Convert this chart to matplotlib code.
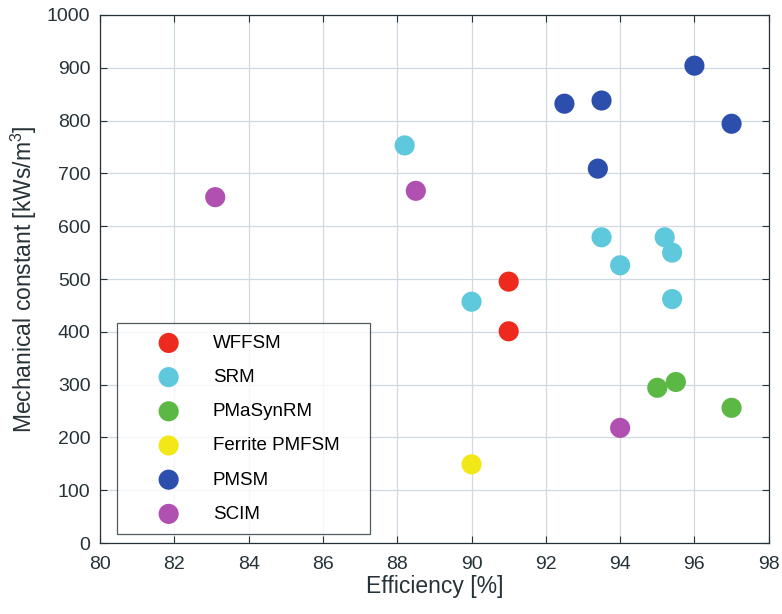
import matplotlib
matplotlib.use("Agg")
import matplotlib.pyplot as plt

plt.rcParams["font.family"] = ["Liberation Sans", "DejaVu Sans"]
plt.rcParams["mathtext.fontset"] = "custom"
plt.rcParams["mathtext.rm"] = "Liberation Sans"
plt.rcParams["mathtext.default"] = "regular"

wffsm_x = [91.0, 91.0]
wffsm_y = [495, 401]
srm_x = [88.2, 90.0, 93.5, 94.0, 95.2, 95.4, 95.4]
srm_y = [753, 457, 579, 526, 579, 550, 462]
pmasyn_x = [95.0, 95.5, 97.0]
pmasyn_y = [294, 305, 256]
ferrite_x = [90.0]
ferrite_y = [149]
pmsm_x = [96.0, 92.5, 93.5, 93.4, 97.0]
pmsm_y = [904, 832, 838, 709, 794]
scim_x = [83.1, 88.5, 94.0]
scim_y = [655, 667, 218]

groups = [
    ("WFFSM", wffsm_x, wffsm_y, "#ee2a1e"),
    ("SRM", srm_x, srm_y, "#5ec8dc"),
    ("PMaSynRM", pmasyn_x, pmasyn_y, "#5bb844"),
    ("Ferrite PMFSM", ferrite_x, ferrite_y, "#f2e818"),
    ("PMSM", pmsm_x, pmsm_y, "#2c4fae"),
    ("SCIM", scim_x, scim_y, "#b050b0"),
]

fig = plt.figure(figsize=(7.82, 6.14), dpi=100)
ax = fig.add_axes([0.128, 0.1156, 0.855, 0.86])

for name, xs, ys, c in groups:
    ax.scatter(xs, ys, s=210, color=c, edgecolors="none", label=name, zorder=3)

ax.set_xlim(80, 98)
ax.set_ylim(0, 1000)
ax.set_xticks(range(80, 99, 2))
ax.set_yticks(range(0, 1001, 100))
ax.grid(True, color="#d0d8e0", linewidth=0.9)
ax.set_axisbelow(True)
ax.tick_params(direction="in", top=True, right=True, labelsize=14,
               colors="#263238", length=5)
ax.tick_params(axis="x", pad=9)
ax.tick_params(axis="y", pad=7)
for sp in ax.spines.values():
    sp.set_color("#263238")
    sp.set_linewidth(0.9)

ax.set_xlabel("Efficiency [%]", fontsize=16.5, color="#263238", labelpad=2)
ax.set_ylabel("Mechanical constant [kWs/m$^3$]", fontsize=16.5, color="#263238", labelpad=6)

leg = ax.legend(loc="lower left", bbox_to_anchor=(0.0254, 0.017, 0.378, 0.4),
                mode="expand", fontsize=13.5,
                frameon=True, fancybox=False, edgecolor="#263238",
                labelspacing=0.91, handletextpad=0.2, borderpad=0.6,
                borderaxespad=0, scatterpoints=1, handlelength=4.3)
leg.get_frame().set_linewidth(0.9)

fig.savefig("out.png", dpi=100)
